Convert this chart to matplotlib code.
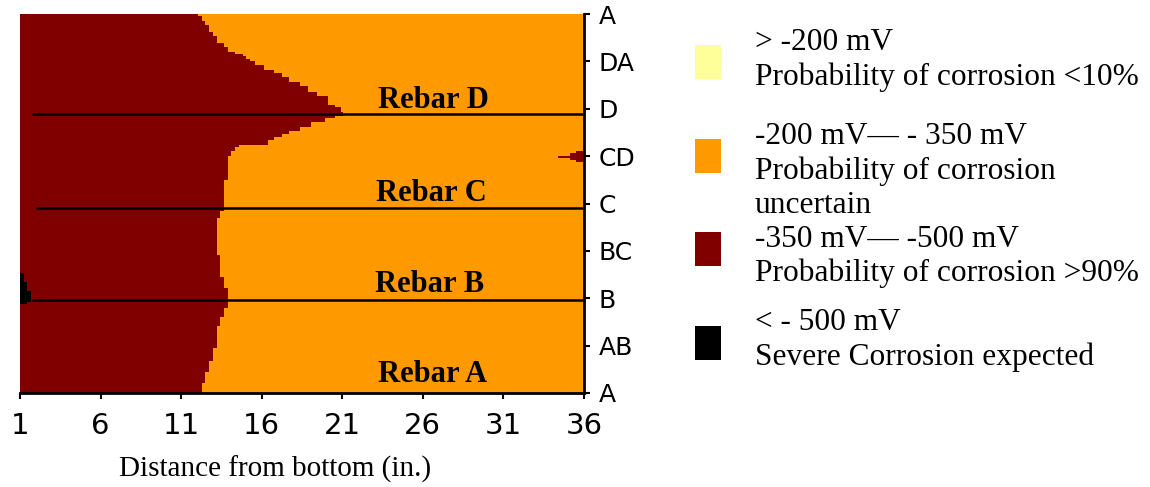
import numpy as np
import matplotlib.pyplot as plt
from matplotlib.patches import Rectangle

# ---------------------------------------------
# data
# boundary between the -350..-500 mV zone (left) and the -200..-350 mV zone (right)
# bnd_y = lower edge of each step (grid rows, A=0 ... A=8), bnd_x = boundary position (in.)
bnd_y = [0.00, 0.21, 0.44, 0.68, 0.95, 1.41, 1.61, 1.79, 2.21, 2.44, 2.91, 3.69, 3.85,
         4.50, 5.00, 5.11, 5.20, 5.23, 5.34, 5.41, 5.47, 5.54, 5.62, 5.71, 5.80, 5.85,
         5.93, 6.04, 6.08, 6.26, 6.36, 6.47, 6.57, 6.68, 6.75, 6.82, 6.92, 7.01, 7.06,
         7.11, 7.16, 7.20, 7.31, 7.38, 7.54, 7.63, 7.77, 7.86, 7.96, 8.00]
bnd_x = [12.29, 12.48, 12.73, 12.98, 13.23, 13.41, 13.66, 13.91, 13.66, 13.41, 13.23, 13.41, 13.66,
         13.91, 14.09, 14.34, 14.59, 16.39, 16.75, 17.25, 17.70, 18.40, 19.05, 19.90, 20.55, 21.05,
         20.90, 20.55, 20.10, 19.40, 18.90, 18.40, 17.70, 17.25, 16.75, 16.15, 15.60, 15.27, 15.02,
         14.82, 14.34, 13.91, 13.66, 13.23, 12.98, 12.73, 12.48, 12.29, 12.05, 12.05]

# < -500 mV spot near rebar B (bottom edge)
black_y = [1.88, 1.92, 2.15, 2.34, 2.53]
black_x = [1.43, 1.68, 1.43, 1.25, 1.25]

# small -350..-500 mV spot at the top edge, row CD
spot_y = [4.88, 4.92, 4.96, 5.00, 5.07, 5.11]
spot_x = [35.50, 35.13, 34.39, 35.13, 35.50, 35.50]

# rebars
rebar_names = ["Rebar D", "Rebar C", "Rebar B", "Rebar A"]
rebar_y = [5.89, 3.905, 1.963, None]
rebar_start = [1.75, 2.0, 1.75, None]
label_x = [26.63, 26.5, 26.44, 26.63]
label_y = [6.02, 4.06, 2.14, 0.23]

x_ticks = [1, 6, 11, 16, 21, 26, 31, 36]
y_ticks = [0, 1, 2, 3, 4, 5, 6, 7, 8]
y_labels = ["A", "AB", "B", "BC", "C", "CD", "D", "DA", "A"]

leg_colors = ["#FFFF99", "#FF9900", "#800000", "#000000"]
leg_lines = [["> -200 mV", "Probability of corrosion <10%"],
             ["-200 mV\u2014 - 350 mV", "Probability of corrosion", "uncertain"],
             ["-350 mV\u2014 -500 mV", "Probability of corrosion >90%"],
             ["< - 500 mV", "Severe Corrosion expected"]]

DARK = "#800000"
ORANGE = "#FF9900"

W, H = 1150, 487
fig = plt.figure(figsize=(W / 100, H / 100), dpi=100)
ax = fig.add_axes([20 / W, 1 - 393 / H, 564 / W, 379 / H])

#----------------------------------
# zones
ax.fill_betweenx(bnd_y, 1, bnd_x, step='post', color=DARK, lw=0)
ax.fill_betweenx(bnd_y, bnd_x, 36, step='post', color=ORANGE, lw=0)
ax.fill_betweenx(black_y, 1, black_x, step='post', color='black', lw=0)
ax.fill_betweenx(spot_y, spot_x, 36, step='post', color=DARK, lw=0)

#----------------------------------
# rebar lines and labels
for name, ry, rs, lx, ly in zip(rebar_names, rebar_y, rebar_start, label_x, label_y):
    if ry is not None:
        ax.plot([rs, 36], [ry, ry], color='black', lw=1.8, solid_capstyle='butt')
    ax.text(lx, ly, name, ha='center', va='baseline', fontsize=22,
            fontweight='bold', family='Liberation Serif')

ax.set_xlim(1, 36)
ax.set_ylim(0, 8)

ax.spines['left'].set_visible(False)
ax.spines['top'].set_visible(False)
ax.spines['right'].set_linewidth(2)
ax.spines['bottom'].set_linewidth(2)

ax.set_xticks(x_ticks)
ax.set_xticklabels([str(t) for t in x_ticks])
ax.yaxis.tick_right()
ax.set_yticks(y_ticks)
ax.set_yticklabels(y_labels)
ax.tick_params(axis='x', length=4, width=1.5, pad=10, labelsize=21)
ax.tick_params(axis='y', length=4.5, width=1.5, pad=6, labelsize=18)

ax.set_xlabel("Distance from bottom (in.)", family='Liberation Serif', fontsize=21)
ax.xaxis.set_label_coords(0.452, -0.165)

#----------------------------------
# legend
sq_top = [45, 139, 232, 326]
first_base = [50, 144, 247, 330]
for col, lines, top, base in zip(leg_colors, leg_lines, sq_top, first_base):
    fig.patches.append(Rectangle((695 / W, 1 - (top + 34) / H), 26 / W, 34 / H,
                                 transform=fig.transFigure, color=col, lw=0))
    for i, line in enumerate(lines):
        fig.text(755 / W, 1 - (base + i * 34.5) / H, line, va='baseline', ha='left',
                 family='Liberation Serif', fontsize=22.6)

fig.savefig("out.png", dpi=100)
